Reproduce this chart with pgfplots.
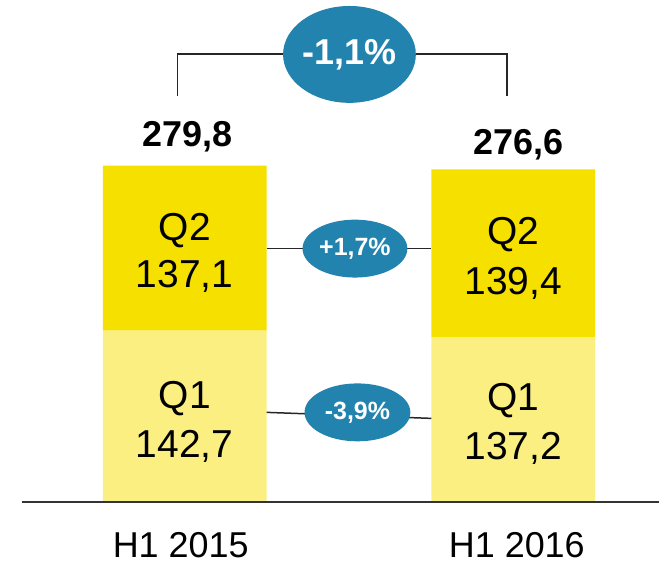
\documentclass[border=0pt]{standalone}
\usepackage{pgfplots}
\pgfplotsset{compat=1.18}
\usetikzlibrary{shapes.geometric}
\usepackage{fontspec}
\setmainfont{Liberation Sans}
\definecolor{qtwo}{RGB}{245,224,0}
\definecolor{qone}{RGB}{251,239,130}
\definecolor{pill}{RGB}{34,131,174}
\tikzset{
  seg/.style={font=\fontsize{39bp}{47bp}\selectfont, anchor=base, inner sep=0pt},
  tot/.style={font=\fontsize{36bp}{42bp}\selectfont\bfseries, anchor=base, inner sep=0pt},
  cat/.style={font=\fontsize{36bp}{42bp}\selectfont, anchor=base, inner sep=0pt},
  pillbig/.style={ellipse, fill=pill, inner sep=0pt, minimum width=128bp, minimum height=97bp,
    text=white, font=\fontsize{36bp}{42bp}\selectfont\bfseries},
  pillsmall/.style={ellipse, fill=pill, inner sep=0pt, minimum width=105bp, minimum height=58bp,
    text=white, font=\fontsize{25bp}{30bp}\selectfont\bfseries},
}
\begin{document}
\begin{tikzpicture}
\begin{axis}[
  scale only axis, width=660bp, height=565bp,
  xmin=-0.5623, xmax=1.4438, ymin=-51.45, ymax=417.43,
  hide axis, clip=false,
  ybar stacked, bar width=0.4985,
]
\path (rel axis cs:0,0) rectangle (rel axis cs:1,1);
\addplot[fill=qone, draw=none] coordinates {(0,142.7) (1,137.2)};
\addplot[fill=qtwo, draw=none] coordinates {(0,137.1) (1,139.4)};
% anchor points for annotations
\coordinate (bl0) at (axis cs:-0.4954,0);
\coordinate (bl1) at (axis cs:1.4438,0);
\coordinate (br0) at (axis cs:-0.0213,337.8);
\coordinate (br1) at (axis cs:-0.0213,372.6);
\coordinate (br2) at (axis cs:0.9818,372.6);
\coordinate (br3) at (axis cs:0.9818,337.8);
\coordinate (ca0) at (axis cs:0.2492,210.8);
\coordinate (ca1) at (axis cs:0.7508,210.8);
\coordinate (cb0) at (axis cs:0.2492,74.7);
\coordinate (cb1) at (axis cs:0.7508,69.7);
\coordinate (s1) at (axis cs:0,217.4);
\coordinate (s2) at (axis cs:0,178.4);
\coordinate (s3) at (axis cs:0,78.0);
\coordinate (s4) at (axis cs:0,37.3);
\coordinate (s5) at (axis cs:1,214.1);
\coordinate (s6) at (axis cs:1,172.6);
\coordinate (s7) at (axis cs:1,76.3);
\coordinate (s8) at (axis cs:1,35.7);
\coordinate (t1) at (axis cs:0.0076,295.4);
\coordinate (t2) at (axis cs:1.0152,288.8);
\coordinate (c1) at (axis cs:-0.0122,-45.6);
\coordinate (c2) at (axis cs:1.011,-45.6);
\coordinate (p1) at (axis cs:0.5015,372.2);
\coordinate (p2) at (axis cs:0.5182,210.8);
\coordinate (p3) at (axis cs:0.5258,74.7);
\end{axis}
% lines
\draw[line width=2bp, black!80] (bl0) -- (bl1);
\draw[line width=1.5bp, black!85] (br0) -- (br1) -- (br2) -- (br3);
\draw[line width=1.5bp, black!85] (ca0) -- (ca1);
\draw[line width=1.5bp, black!85] (cb0) -- (cb1);
% segment labels
\node[seg] at (s1) {Q2};
\node[seg] at (s2) {137,1};
\node[seg] at (s3) {Q1};
\node[seg] at (s4) {142,7};
\node[seg] at (s5) {Q2};
\node[seg] at (s6) {139,4};
\node[seg] at (s7) {Q1};
\node[seg] at (s8) {137,2};
% totals
\node[tot] at (t1) {279,8};
\node[tot] at (t2) {276,6};
% category labels
\node[cat] at (c1) {H1 2015};
\node[cat] at (c2) {H1 2016};
% pills
\node[pillbig] at (p1) {-1,1\%};
\node[pillsmall] at (p2) {+1,7\%};
\node[pillsmall, minimum width=106bp] at (p3) {-3,9\%};
\end{tikzpicture}
\end{document}
